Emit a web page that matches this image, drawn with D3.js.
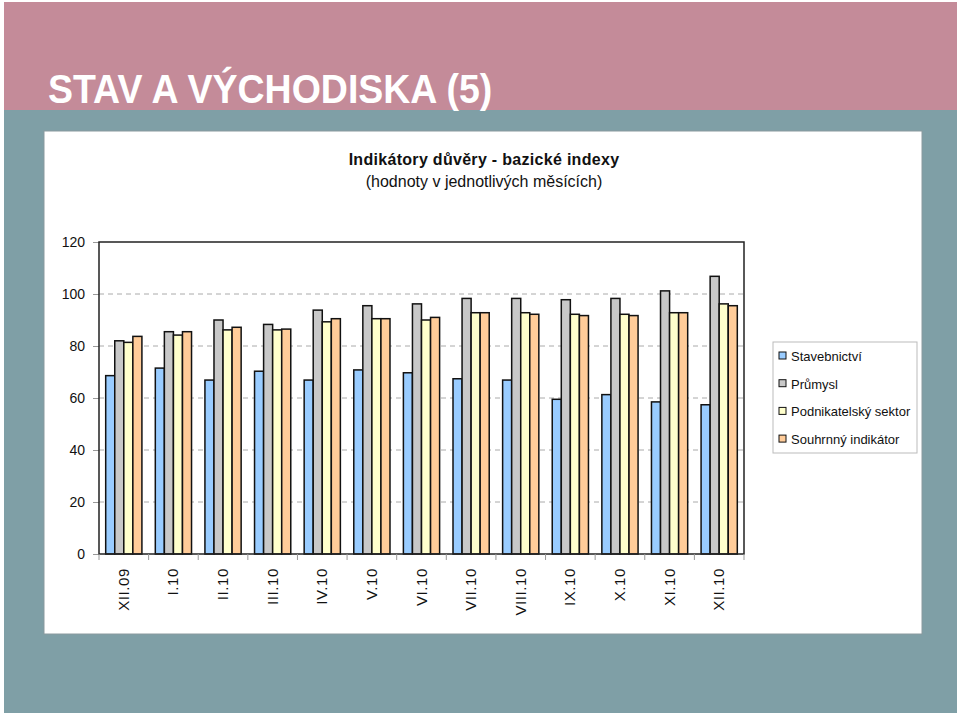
<!DOCTYPE html>
<html>
<head>
<meta charset="utf-8">
<script src="https://cdn.jsdelivr.net/npm/d3@7"></script>
<style>
  body { margin: 0; background: #fff; }
  svg { display: block; font-family: "Liberation Sans", Arial, sans-serif; }
</style>
</head>
<body>
<svg id="chart" width="960" height="716"></svg>
<script>
// months on the x axis
var months = ["XII.09", "I.10", "II.10", "III.10", "IV.10", "V.10", "VI.10",
    "VII.10", "VIII.10", "IX.10", "X.10", "XI.10", "XII.10"];

var seriesNames = ["Stavebnictví", "Průmysl", "Podnikatelský sektor", "Souhrnný indikátor"];
var seriesColors = ["#99CCFF", "#C8C8C8", "#FFFFCC", "#FFCC99"];

var stavebnictvi = [68.6, 71.5, 66.9, 70.3, 66.9, 70.8, 69.7, 67.4, 66.9, 59.5, 61.3, 58.5, 57.4];
var prumysl = [82.0, 85.5, 90.0, 88.3, 93.8, 95.5, 96.2, 98.3, 98.3, 97.8, 98.3, 101.2, 106.8];
var podnikatelsky = [81.4, 84.2, 86.2, 86.2, 89.3, 90.5, 90.0, 92.8, 92.8, 92.2, 92.2, 92.8, 96.2];
var souhrnny = [83.7, 85.5, 87.2, 86.5, 90.5, 90.5, 91.0, 92.8, 92.2, 91.7, 91.7, 92.8, 95.5];

var yTicks = [0, 20, 40, 60, 80, 100, 120];

var seriesValues = [stavebnictvi, prumysl, podnikatelsky, souhrnny];

var svg = d3.select("#chart");

// slide background
svg.append("rect").attr("x", 4).attr("y", 2).attr("width", 953).attr("height", 108).attr("fill", "#C48B99");
svg.append("rect").attr("x", 4).attr("y", 110).attr("width", 953).attr("height", 603).attr("fill", "#7F9FA6");

svg.append("text")
    .attr("transform", "translate(48,103) scale(1,1.06)")
    .attr("fill", "#fff")
    .attr("font-weight", "bold")
    .attr("font-size", "37.5px")
    .text("STAV A VÝCHODISKA (5)");

// white chart box
svg.append("rect").attr("x", 44).attr("y", 131).attr("width", 878).attr("height", 503)
    .attr("fill", "#fff").attr("stroke", "#8a9a9e").attr("stroke-width", 1);

svg.append("text")
    .attr("x", 484).attr("y", 165)
    .attr("text-anchor", "middle")
    .attr("font-weight", "bold")
    .attr("font-size", "16px")
    .attr("letter-spacing", "0.3px")
    .attr("fill", "#111")
    .text("Indikátory důvěry - bazické indexy");
svg.append("text")
    .attr("x", 484).attr("y", 187)
    .attr("text-anchor", "middle")
    .attr("font-size", "16px")
    .attr("fill", "#111")
    .text("(hodnoty v jednotlivých měsících)");

var plotLeft = 99, plotRight = 744, plotTop = 242, plotBottom = 554;

var x = d3.scaleBand().domain(months).range([plotLeft, plotRight]).paddingInner(0.27).paddingOuter(0.135);
var xs = d3.scaleBand().domain(d3.range(seriesNames.length)).range([0, x.bandwidth()]);
var y = d3.scaleLinear().domain([0, 120]).range([plotBottom, plotTop]);

// gridlines
svg.append("g")
    .selectAll("line")
    .data(yTicks.filter(function (d) { return d > 0 && d < 120; }))
    .enter()
    .append("line")
    .attr("x1", plotLeft).attr("x2", plotRight)
    .attr("y1", function (d) { return y(d); })
    .attr("y2", function (d) { return y(d); })
    .attr("stroke", "#aaa")
    .attr("stroke-dasharray", "5,4");

// y axis
var yAxis = svg.append("g")
    .attr("transform", "translate(" + plotLeft + ",0)")
    .call(d3.axisLeft(y).tickValues(yTicks).tickSize(6).tickPadding(8));
yAxis.select(".domain").remove();
yAxis.selectAll(".tick line").attr("stroke", "#999");
yAxis.selectAll("text").attr("font-size", "14px").attr("fill", "#111").attr("font-family", "Liberation Sans, Arial, sans-serif");

// bars
var groups = svg.append("g")
    .selectAll("g")
    .data(months)
    .enter()
    .append("g")
    .attr("transform", function (d) { return "translate(" + x(d) + ",0)"; });

groups.selectAll("rect")
    .data(function (m, i) {
        return seriesValues.map(function (vals, s) { return { s: s, v: vals[i] }; });
    })
    .enter()
    .append("rect")
    .attr("x", function (d) { return xs(d.s); })
    .attr("width", xs.bandwidth())
    .attr("y", function (d) { return y(d.v); })
    .attr("height", function (d) { return y(0) - y(d.v); })
    .attr("fill", function (d) { return seriesColors[d.s]; })
    .attr("stroke", "#111")
    .attr("stroke-width", 1.5);

// plot frame
svg.append("rect")
    .attr("x", plotLeft).attr("y", plotTop)
    .attr("width", plotRight - plotLeft).attr("height", plotBottom - plotTop)
    .attr("fill", "none").attr("stroke", "#222").attr("stroke-width", 1.5);

// x axis ticks between categories
var step = x.step();
svg.append("g")
    .selectAll("line")
    .data(d3.range(months.length + 1))
    .enter()
    .append("line")
    .attr("x1", function (i) { return plotLeft + i * step; })
    .attr("x2", function (i) { return plotLeft + i * step; })
    .attr("y1", plotBottom).attr("y2", plotBottom + 6)
    .attr("stroke", "#999");

svg.append("g")
    .selectAll("text")
    .data(months)
    .enter()
    .append("text")
    .attr("transform", function (d) {
        return "translate(" + (x(d) + x.bandwidth() / 2 + 5) + "," + 568 + ") rotate(-90)";
    })
    .attr("text-anchor", "end")
    .attr("font-size", "15px")
    .attr("letter-spacing", "0.6px")
    .attr("fill", "#111")
    .text(function (d) { return d; });

// legend
var legend = svg.append("g").attr("transform", "translate(773,342)");
legend.append("rect").attr("width", 144).attr("height", 111)
    .attr("fill", "#fff").attr("stroke", "#bbb");
var items = legend.selectAll("g.item")
    .data(seriesNames)
    .enter()
    .append("g")
    .attr("class", "item")
    .attr("transform", function (d, i) { return "translate(0," + (14 + i * 27.7) + ")"; });
items.append("rect")
    .attr("x", 6).attr("y", -4).attr("width", 7).attr("height", 7)
    .attr("fill", function (d, i) { return seriesColors[i]; })
    .attr("stroke", "#111").attr("stroke-width", 1);
items.append("text")
    .attr("x", 18).attr("y", 5)
    .attr("font-size", "13px")
    .attr("fill", "#111")
    .text(function (d) { return d; });
</script>
</body>
</html>
